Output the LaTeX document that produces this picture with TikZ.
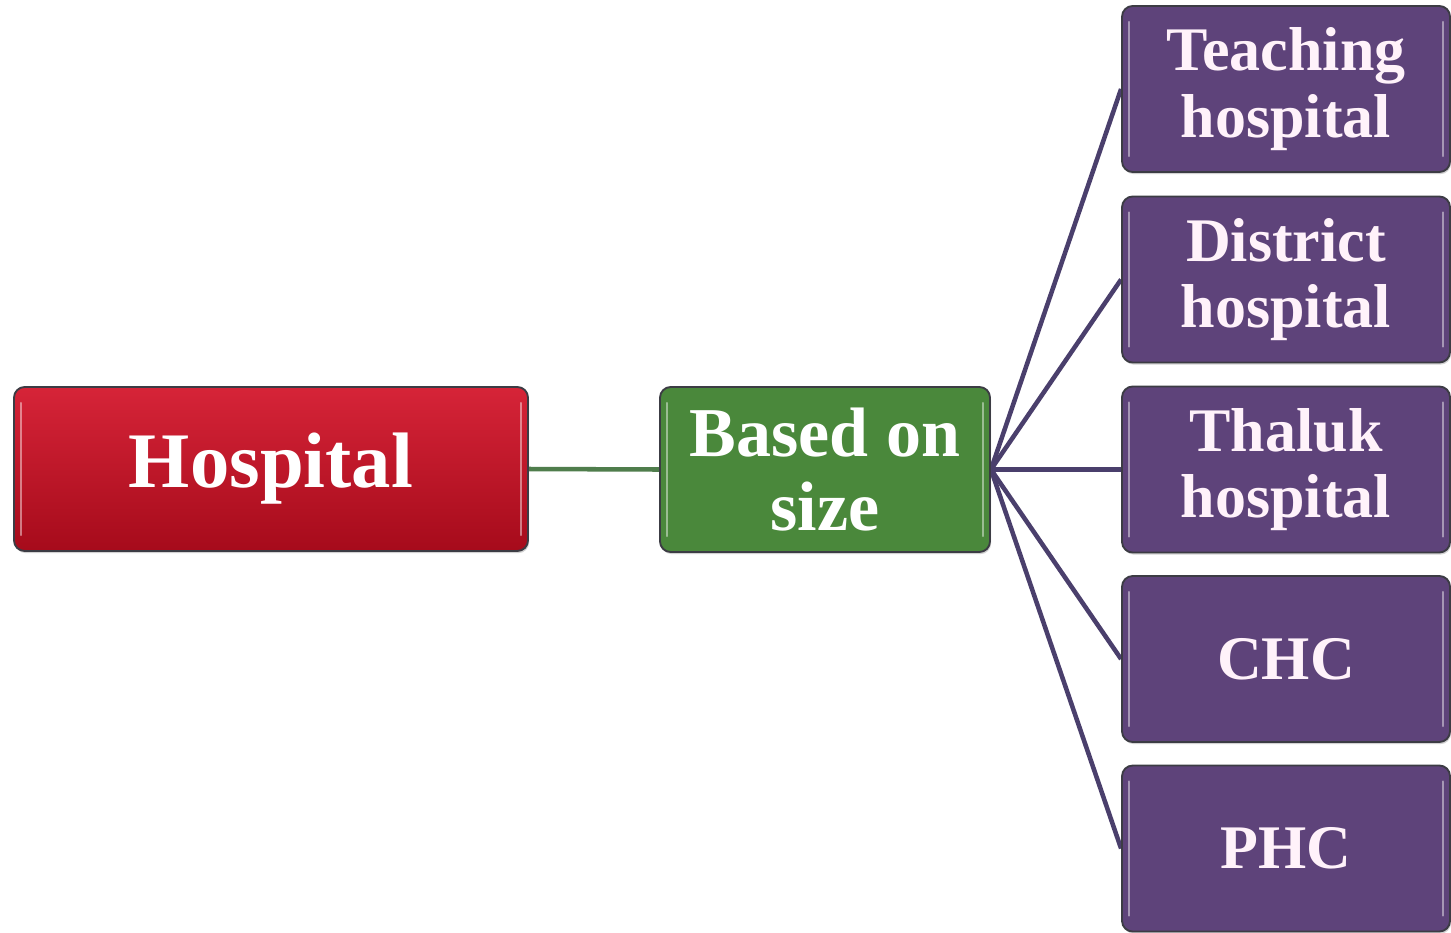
\documentclass[tikz,border=0pt]{standalone}
\usepackage{fontspec}
\setmainfont{Liberation Serif}
\usetikzlibrary{shadows,backgrounds}
\definecolor{redtop}{HTML}{D62438}
\definecolor{redbot}{HTML}{A60B1B}
\definecolor{greenbox}{HTML}{4A883B}
\definecolor{purplebox}{HTML}{5E437A}
\definecolor{edgegray}{HTML}{3C3C44}
\definecolor{purpleline}{HTML}{4A3F6C}
\definecolor{greenline}{HTML}{4F7D4C}
\definecolor{textpink}{HTML}{FFF2FA}
\tikzset{
  boxbase/.style={rounded corners=8pt, draw=edgegray, line width=1.4pt,
    inner sep=0pt, align=center, text=white,
    drop shadow={opacity=0.35, shadow xshift=0.8pt, shadow yshift=-1.6pt},
    path picture={
      \draw[white, opacity=0.45, line width=1.6pt, line cap=round]
        ([xshift=5pt,yshift=-12pt]path picture bounding box.north west) --
        ([xshift=5pt,yshift=12pt]path picture bounding box.south west);
      \draw[white, opacity=0.45, line width=1.6pt, line cap=round]
        ([xshift=-5pt,yshift=-12pt]path picture bounding box.north east) --
        ([xshift=-5pt,yshift=12pt]path picture bounding box.south east);
    }},
  rootbox/.style={boxbase, top color=redtop, bottom color=redbot,
    minimum width=385.5pt, minimum height=123pt,
    font=\bfseries\fontsize{59pt}{62pt}\selectfont},
  midbox/.style={boxbase, fill=greenbox,
    minimum width=247.5pt, minimum height=123.75pt,
    font=\bfseries\fontsize{52.5pt}{56pt}\selectfont},
  leafbox/.style={boxbase, fill=purplebox, text=textpink,
    minimum width=246pt, minimum height=124.5pt,
    font=\bfseries\fontsize{46.5pt}{50pt}\selectfont},
  purplelink/.style={draw=purpleline, line width=3.4pt},
  greenlink/.style={draw=greenline, line width=3.4pt}
}
\begin{document}
\begin{tikzpicture}[x=0.75pt, y=-0.75pt]
\useasboundingbox (0,0) rectangle (1451,932);

\node[rootbox] (hosp) at (271,469) {\raisebox{-3pt}{Hospital}};
\node[midbox] (size) at (825,469.5) {Based on\\size};

\node[leafbox] (teach) at (1286,89) {Teaching\\hospital};
\node[leafbox] (dist) at (1286,279.5) {District\\hospital};
\node[leafbox] (thal) at (1286,469.5) {Thaluk\\hospital};
\node[leafbox] (chc) at (1286,659) {CHC};
\node[leafbox] (phc) at (1286,848.5) {PHC};

\begin{scope}[on background layer]
\fill[white] (0,0) rectangle (1451,932);
\draw[greenlink] (hosp.east) -- (size.west);
\foreach \t in {teach,dist,thal,chc,phc}
  \draw[purplelink] (size.east) -- (\t.west);
\end{scope}
\end{tikzpicture}
\end{document}
